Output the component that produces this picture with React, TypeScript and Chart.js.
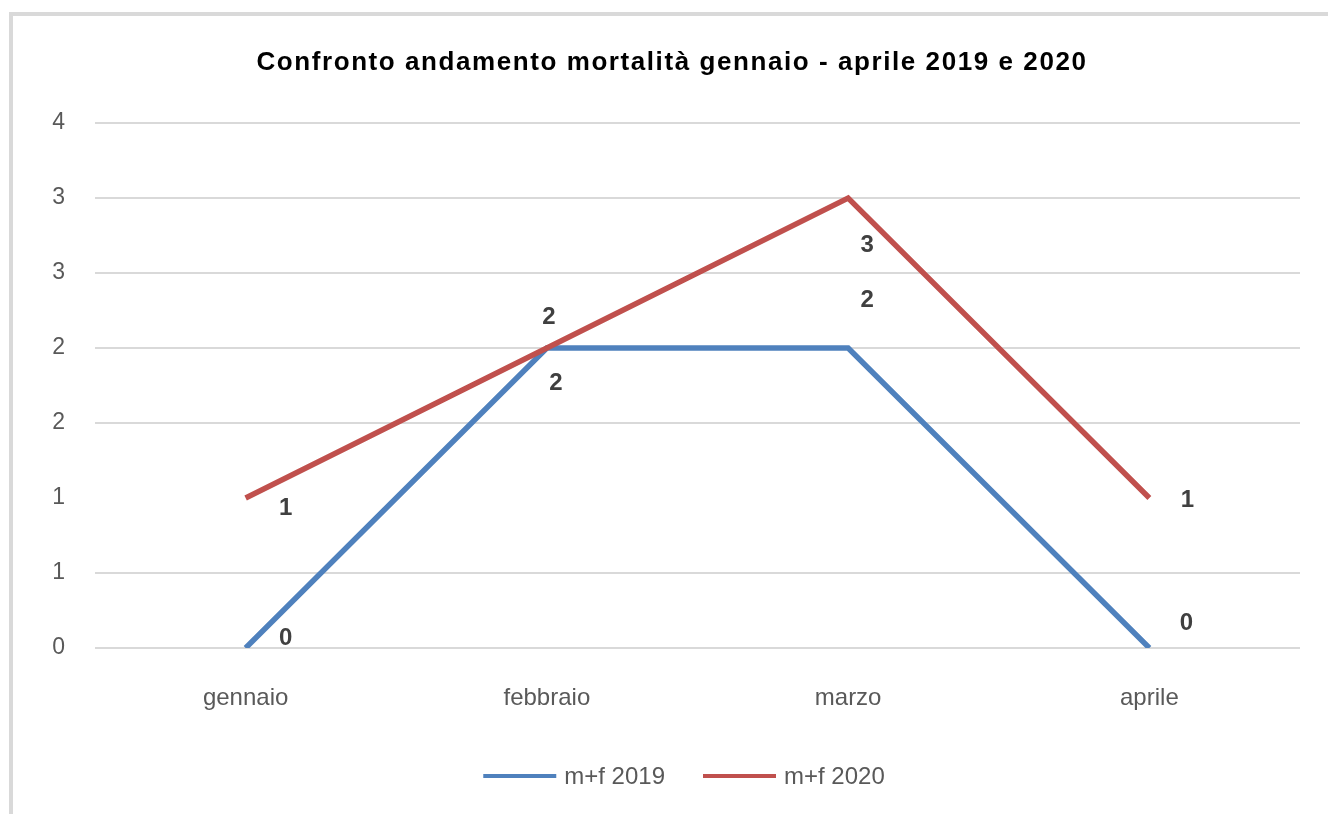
import React, { useEffect, useRef } from "react";
import { Chart, registerables } from "chart.js";

Chart.register(...registerables);

const FONT = '"Liberation Sans", Arial, sans-serif';

const chartTitle = "Confronto andamento mortalità gennaio - aprile 2019 e 2020";
const categories = ["gennaio", "febbraio", "marzo", "aprile"];
const seriesNames = ["m+f 2019", "m+f 2020"];
const values2019 = [0, 2, 2, 0];
const values2020 = [1, 2, 3, 1];
const seriesColors = ["#4F81BD", "#C0504D"];
const yTickLabels = ["0", "1", "1", "2", "2", "3", "3", "4"];

// label placement relative to each point (style, not data)
const labelOffsets = [
  [[40, -10], [9, 35], [19, -48], [37, -25]],
  [[40, 10], [2, -31], [19, 47], [38, 2]],
];

const overlayPlugin = {
  id: "overlay",
  afterDatasetsDraw(chart: any) {
    const ctx = chart.ctx as CanvasRenderingContext2D;
    ctx.save();
    // data labels
    ctx.font = `bold 24px ${FONT}`;
    ctx.fillStyle = "#404040";
    ctx.textAlign = "center";
    ctx.textBaseline = "middle";
    chart.data.datasets.forEach((ds: any, di: number) => {
      const meta = chart.getDatasetMeta(di);
      meta.data.forEach((pt: any, i: number) => {
        const off = labelOffsets[di][i];
        ctx.fillText(String(ds.data[i]), pt.x + off[0], pt.y + off[1]);
      });
    });

    // title
    ctx.font = `bold 26px ${FONT}`;
    ctx.fillStyle = "#000000";
    ctx.textAlign = "center";
    ctx.textBaseline = "alphabetic";
    const w = ctx.measureText(chartTitle).width;
    const target = 831;
    if ("letterSpacing" in ctx) {
      (ctx as any).letterSpacing = `${Math.max(0, (target - w) / chartTitle.length)}px`;
    }
    ctx.fillText(chartTitle, 672, 70);
    if ("letterSpacing" in ctx) (ctx as any).letterSpacing = "0px";

    // legend
    ctx.font = `24px ${FONT}`;
    ctx.textAlign = "left";
    ctx.textBaseline = "middle";
    const lineLen = 73;
    const gap = 8;
    const itemGap = 38;
    const items = chart.data.datasets.map((ds: any) => ({
      label: ds.label,
      color: ds.borderColor,
      tw: ctx.measureText(ds.label).width,
    }));
    const total =
      items.reduce((s: number, it: any) => s + lineLen + gap + it.tw, 0) +
      itemGap * (items.length - 1);
    let x = 684 - total / 2;
    const ly = 776;
    items.forEach((it: any) => {
      ctx.strokeStyle = it.color;
      ctx.lineWidth = 4;
      ctx.beginPath();
      ctx.moveTo(x, ly);
      ctx.lineTo(x + lineLen, ly);
      ctx.stroke();
      ctx.fillStyle = "#595959";
      ctx.fillText(it.label, x + lineLen + gap, ly + 1);
      x += lineLen + gap + it.tw + itemGap;
    });
    ctx.restore();
  },
};

export default function App() {
  const canvasRef = useRef<HTMLCanvasElement | null>(null);

  useEffect(() => {
    const canvas = canvasRef.current;
    if (!canvas) return;
    const chart = new Chart(canvas, {
      type: "line",
      data: {
        labels: categories,
        datasets: [
          {
            label: seriesNames[0],
            data: values2019,
            borderColor: seriesColors[0],
            backgroundColor: seriesColors[0],
            borderWidth: 5.5,
            pointRadius: 0,
            tension: 0,
            fill: false,
            order: 1,
          },
          {
            label: seriesNames[1],
            data: values2020,
            borderColor: seriesColors[1],
            backgroundColor: seriesColors[1],
            borderWidth: 5.5,
            pointRadius: 0,
            tension: 0,
            fill: false,
            order: 0,
          },
        ],
      },
      options: {
        responsive: false,
        animation: false,
        layout: { padding: { top: 123, right: 28, left: 0, bottom: 0 } },
        plugins: {
          legend: { display: false },
          title: { display: false },
          tooltip: { enabled: false },
        },
        scales: {
          x: {
            type: "category",
            offset: true,
            grid: { display: false, drawTicks: false },
            border: { display: false },
            ticks: {
              color: "#595959",
              font: { family: FONT, size: 24 },
              padding: 36,
              maxRotation: 0,
              autoSkip: false,
            },
            afterFit: (s: any) => {
              s.height = 166;
            },
          },
          y: {
            min: 0,
            max: 3.5,
            ticks: {
              stepSize: 0.5,
              color: "#595959",
              font: { family: FONT, size: 23 },
              padding: 30,
              callback: (_v: any, i: number) => yTickLabels[i],
            },
            grid: {
              color: (c: any) =>
                c.index === 2 || (c.tick && Math.abs(c.tick.value - 1) < 1e-6)
                  ? "rgba(255,255,255,0)"
                  : "#D9D9D9",
              lineWidth: 2,
              drawTicks: false,
            },
            border: { display: false },
            afterFit: (s: any) => {
              s.width = 95;
            },
          },
        },
      },
      plugins: [overlayPlugin],
    } as any);
    return () => chart.destroy();
  }, []);

  return (
    <div
      style={{
        position: "absolute",
        left: 0,
        top: 0,
        width: 1328,
        height: 814,
        background: "#ffffff",
        overflow: "hidden",
      }}
    >
      <div
        style={{
          position: "absolute",
          left: 9,
          top: 12,
          right: -10,
          bottom: -10,
          borderLeft: "4px solid #D9D9D9",
          borderTop: "4px solid #D9D9D9",
        }}
      />
      <canvas
        ref={canvasRef}
        width={1328}
        height={814}
        style={{ position: "absolute", left: 0, top: 0, width: 1328, height: 814 }}
      />
    </div>
  );
}
